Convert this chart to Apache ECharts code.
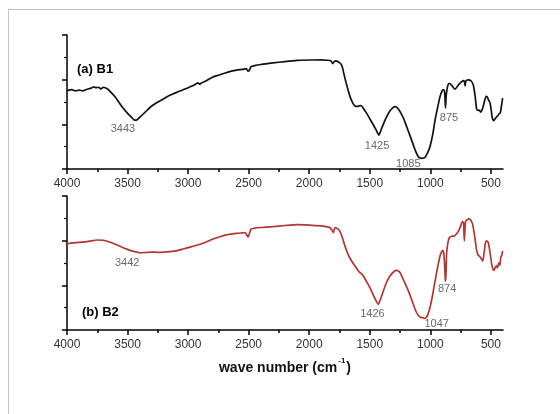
<!DOCTYPE html>
<html><head><meta charset="utf-8">
<script src="https://cdn.jsdelivr.net/npm/echarts@6/dist/echarts.min.js"></script>
<style>
html,body{margin:0;padding:0;background:#fff;overflow:hidden}
#c{width:560px;height:414px;position:absolute;left:0;top:0}
#frame{position:absolute;left:8px;top:9px;width:600px;height:500px;border-left:1px solid #c4c4c4;border-top:1px solid #c4c4c4;pointer-events:none}
</style></head>
<body><div id="c"></div><div id="frame"></div>
<script>
// Wavenumber ticks (cm-1)
const xTickValues = [4000, 3500, 3000, 2500, 2000, 1500, 1000, 500];
const xMinorValues = [3750, 3250, 2750, 2250, 1750, 1250, 750];

// (a) B1 spectrum: wavenumber / transmittance (arb. units)
const wnB1 = [4000,3960,3930,3900,3870,3840,3800,3780,3760,3740,3720,3700,3680,3660,3640,3600,3550,3500,3470,3443,3420,3400,3350,3300,3250,3200,3150,3100,3050,3000,2950,2920,2905,2890,2850,2800,2750,2700,2650,2600,2550,2520,2505,2495,2480,2450,2400,2300,2200,2100,2000,1900,1850,1820,1805,1795,1780,1750,1730,1705,1685,1663,1640,1622,1600,1580,1567,1545,1525,1500,1470,1445,1425,1400,1374,1350,1333,1310,1292,1270,1250,1220,1195,1165,1140,1120,1099,1085,1070,1044,1025,1003,980,961,940,920,905,893,885,880,875,870,865,855,843,820,796,770,741,725,718,713,708,700,686,665,645,630,617,605,595,585,576,560,550,540,530,520,507,495,490,482,475,465,452,440,435,425,418,412,403];
const tB1 = [3.51,3.55,3.50,3.53,3.50,3.56,3.62,3.68,3.64,3.66,3.58,3.66,3.63,3.56,3.45,3.21,2.82,2.49,2.33,2.19,2.21,2.31,2.57,2.82,3.00,3.15,3.30,3.42,3.53,3.64,3.76,3.86,3.80,3.85,3.95,4.11,4.20,4.29,4.37,4.43,4.46,4.49,4.38,4.42,4.58,4.63,4.68,4.75,4.81,4.86,4.88,4.89,4.87,4.84,4.72,4.80,4.84,4.76,4.62,4.06,3.65,3.24,2.95,2.82,2.80,2.84,2.82,2.65,2.49,2.25,1.97,1.72,1.52,1.85,2.19,2.45,2.61,2.74,2.79,2.73,2.57,2.25,1.89,1.45,1.07,0.78,0.55,0.49,0.48,0.52,0.70,1.00,1.55,2.19,2.75,3.24,3.48,3.56,3.50,3.30,2.73,3.20,3.48,3.75,3.84,3.72,3.57,3.75,3.91,3.96,3.90,3.72,3.92,3.97,3.99,3.95,3.76,3.25,2.67,2.62,2.64,2.55,2.61,2.87,3.10,3.25,3.22,3.10,2.96,2.55,2.33,2.20,2.16,2.25,2.34,2.40,2.46,2.49,2.62,2.85,3.17];

// (b) B2 spectrum
const wnB2 = [4000,3950,3900,3850,3800,3750,3700,3650,3600,3550,3500,3450,3400,3350,3300,3250,3200,3150,3100,3050,3000,2950,2900,2850,2800,2750,2700,2650,2600,2550,2530,2515,2505,2495,2480,2450,2400,2300,2200,2100,2000,1900,1850,1828,1810,1801,1787,1770,1750,1730,1705,1680,1650,1620,1594,1570,1553,1525,1498,1470,1445,1429,1410,1388,1360,1333,1300,1278,1255,1236,1210,1181,1150,1126,1105,1085,1060,1047,1035,1020,1003,980,961,940,920,905,898,888,882,876,873,869,865,855,843,825,804,785,768,750,735,725,722,719,715,710,700,685,670,655,645,630,617,605,595,580,567,555,545,535,521,505,493,483,474,465,452,445,438,430,425,419,410,403];
const tB2 = [3.86,3.90,3.92,3.95,3.99,4.03,4.02,3.94,3.84,3.72,3.61,3.52,3.46,3.47,3.49,3.48,3.49,3.51,3.54,3.61,3.69,3.76,3.84,3.94,4.06,4.15,4.24,4.29,4.33,4.35,4.36,4.25,4.16,4.30,4.52,4.56,4.59,4.63,4.68,4.72,4.70,4.66,4.62,4.58,4.45,4.36,4.58,4.55,4.45,4.20,3.76,3.40,3.09,2.85,2.64,2.52,2.42,2.15,1.89,1.55,1.28,1.15,1.40,1.75,2.15,2.42,2.62,2.67,2.60,2.42,2.10,1.75,1.30,0.93,0.70,0.58,0.54,0.52,0.55,0.70,1.00,1.60,2.19,2.80,3.31,3.52,3.57,3.40,2.90,2.25,2.19,2.80,3.46,3.90,4.13,4.20,4.21,4.30,4.43,4.65,4.85,4.78,4.30,3.99,4.40,4.85,4.92,4.98,4.95,4.80,4.58,4.05,3.54,3.35,3.31,3.20,3.09,3.50,3.90,3.99,3.91,3.40,2.94,2.72,2.67,2.80,2.87,2.78,2.95,3.01,2.90,3.24,3.35,3.54];

// Peak annotations: text and anchor (wavenumber, transmittance)
const peakTextB1 = ['3443', '1425', '1085', '875'];
const peakWnB1 = [3538, 1440, 1182, 846];
const peakTB1 = [1.79, 1.03, 0.22, 2.27];
const peakTextB2 = ['3442', '1426', '1047', '874'];
const peakWnB2 = [3503, 1478, 948, 861];
const peakTB2 = [2.99, 0.70, 0.28, 1.82];

const panelTitles = ['(a) B1', '(b) B2'];
const xAxisTitle = 'wave number (cm';

const zip = (a, b) => a.map((v, i) => [v, b[i]]);
const FONT = "'Liberation Sans', Arial, sans-serif";

function xAxes(grid, withName) {
  const main = {
    gridIndex: grid, type: 'value', inverse: true, min: 400, max: 4000, position: 'bottom',
    axisLine: { onZero: false, lineStyle: { color: '#000', width: 1.5 } },
    axisTick: { customValues: xTickValues, length: 5, inside: false, lineStyle: { color: '#000', width: 1.5 } },
    axisLabel: { customValues: xTickValues, formatter: v => String(v), fontSize: 12, color: '#333', fontFamily: FONT, margin: 9 },
    splitLine: { show: false }
  };
  if (withName) {
    main.name = '{t|' + xAxisTitle + '}{s|-1}{t|)}';
    main.nameLocation = 'middle';
    main.nameGap = 27;
    main.nameTextStyle = {
      rich: {
        t: { fontSize: 14, fontWeight: 'bold', color: '#111', fontFamily: FONT, lineHeight: 18, verticalAlign: 'bottom' },
        s: { fontSize: 8, fontWeight: 'bold', color: '#111', fontFamily: FONT, lineHeight: 18, verticalAlign: 'top', padding: [0, 1, 0, 1] }
      }
    };
  }
  const minor = {
    gridIndex: grid, type: 'value', inverse: true, min: 400, max: 4000, position: 'bottom',
    axisLine: { show: false, onZero: false },
    axisTick: { customValues: xMinorValues, length: 3, inside: false, lineStyle: { color: '#000', width: 1.5 } },
    axisLabel: { show: false },
    splitLine: { show: false }
  };
  return [main, minor];
}

function yAxis(grid) {
  return {
    gridIndex: grid, type: 'value', min: 0, max: 6, interval: 2,
    axisLine: { show: true, onZero: false, lineStyle: { color: '#000', width: 1.5 } },
    axisTick: { show: true, length: 5, lineStyle: { color: '#000', width: 1.5 } },
    minorTick: { show: true, splitNumber: 2, length: 3, lineStyle: { color: '#000', width: 1.2 } },
    axisLabel: { show: false },
    splitLine: { show: false }
  };
}

function peakSeries(xi, yi, texts, wns, ts) {
  return {
    type: 'scatter', xAxisIndex: xi, yAxisIndex: yi, symbolSize: 1, silent: true,
    itemStyle: { color: 'rgba(0,0,0,0)' },
    label: { show: true, position: 'inside', formatter: p => p.data.name, fontSize: 11, color: '#444', fontFamily: FONT },
    data: texts.map((t, i) => ({ name: t, value: [wns[i], ts[i]] }))
  };
}

const chart = echarts.init(document.getElementById('c'), null, { renderer: 'canvas' });
chart.setOption({
  backgroundColor: '#fff',
  animation: false,
  title: [
    { text: panelTitles[0], left: 77, top: 63, padding: 0, textStyle: { fontSize: 13, fontWeight: 'bold', color: '#000', fontFamily: FONT } },
    { text: panelTitles[1], left: 82, top: 306, padding: 0, textStyle: { fontSize: 13, fontWeight: 'bold', color: '#000', fontFamily: FONT } }
  ],
  grid: [
    { left: 67, right: 57, top: 35, height: 134 },
    { left: 67, right: 57, top: 196, height: 134 }
  ],
  xAxis: [...xAxes(0, false), ...xAxes(1, true)],
  yAxis: [yAxis(0), yAxis(1)],
  series: [
    { type: 'line', xAxisIndex: 0, yAxisIndex: 0, data: zip(wnB1, tB1), showSymbol: false, smooth: 0.2,
      lineStyle: { color: '#111', width: 1.7 }, silent: true },
    { type: 'line', xAxisIndex: 2, yAxisIndex: 1, data: zip(wnB2, tB2), showSymbol: false, smooth: 0.2,
      lineStyle: { color: '#b53530', width: 1.7 }, silent: true },
    peakSeries(0, 0, peakTextB1, peakWnB1, peakTB1),
    peakSeries(2, 1, peakTextB2, peakWnB2, peakTB2)
  ]
});
</script>
</body></html>
